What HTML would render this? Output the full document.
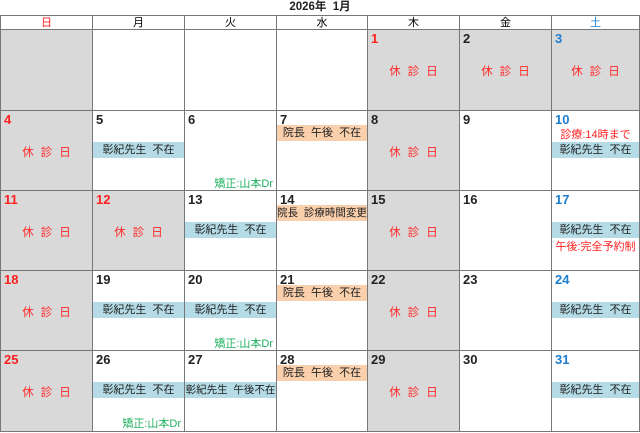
<!DOCTYPE html><html><head><meta charset="utf-8"><style>
body{margin:0;width:640px;height:433px;background:#fff;position:relative;overflow:hidden;font-family:"Liberation Sans","Noto Sans CJK JP",sans-serif;}
.a{position:absolute;box-sizing:border-box}
.c{position:absolute;box-sizing:border-box;border:1px solid #777;}
.g{background:#d9d9d9}
.n{position:absolute;left:3px;top:1px;font-size:13px;font-weight:bold;color:#222}
.r{color:#ff2020}.b{color:#1e7fd0}
.k{position:absolute;left:0;right:0;top:33px;text-align:center;font-size:11.5px;color:#ff2a2a;letter-spacing:7px;padding-left:7px}
.bl{position:absolute;left:0;right:0;top:31px;height:16px;background:#b4dbe6;font-size:11px;text-align:center;line-height:16px;color:#222}
.or{position:absolute;left:0;right:0;top:14px;height:16px;background:#f9cfac;font-size:11px;text-align:center;line-height:16px;color:#222}
.gr{position:absolute;right:3px;top:64px;font-size:11px;color:#22b060}
.h{position:absolute;top:15px;height:15px;font-size:11px;text-align:center;line-height:15px;box-sizing:border-box;border:1px solid #777}
</style></head><body>
<div class="a" style="left:0;width:640px;top:0;text-align:center;font-size:11.5px;font-weight:bold;color:#222;line-height:14px">2026年&nbsp; 1月</div>
<div class="h r" style="left:0;width:93px">日</div>
<div class="h" style="left:92px;width:93px">月</div>
<div class="h" style="left:184px;width:93px">火</div>
<div class="h" style="left:276px;width:92px">水</div>
<div class="h" style="left:367px;width:93px">木</div>
<div class="h" style="left:459px;width:93px">金</div>
<div class="h b" style="left:551px;width:89px">土</div>

<div class="c g" style="left:0;top:29px;width:93px;height:82px"></div>
<div class="c" style="left:92px;top:29px;width:93px;height:82px"></div>
<div class="c" style="left:184px;top:29px;width:93px;height:82px"></div>
<div class="c" style="left:276px;top:29px;width:92px;height:82px"></div>
<div class="c g" style="left:367px;top:29px;width:93px;height:82px"><span class="n r">1</span><div class="k">休診日</div></div>
<div class="c g" style="left:459px;top:29px;width:93px;height:82px"><span class="n">2</span><div class="k">休診日</div></div>
<div class="c g" style="left:551px;top:29px;width:89px;height:82px"><span class="n b">3</span><div class="k">休診日</div></div>

<div class="c g" style="left:0;top:110px;width:93px;height:81px"><span class="n r">4</span><div class="k">休診日</div></div>
<div class="c" style="left:92px;top:110px;width:93px;height:81px"><span class="n">5</span><div class="bl">彰紀先生&nbsp; 不在</div></div>
<div class="c" style="left:184px;top:110px;width:93px;height:81px"><span class="n">6</span><div class="gr">矯正:山本Dr</div></div>
<div class="c" style="left:276px;top:110px;width:92px;height:81px"><span class="n">7</span><div class="or">院長&nbsp; 午後&nbsp; 不在</div></div>
<div class="c g" style="left:367px;top:110px;width:93px;height:81px"><span class="n">8</span><div class="k">休診日</div></div>
<div class="c" style="left:459px;top:110px;width:93px;height:81px"><span class="n">9</span></div>
<div class="c" style="left:551px;top:110px;width:89px;height:81px"><span class="n b">10</span><div class="a r" style="left:0;right:0;top:15px;text-align:center;font-size:11px">診療:14時まで</div><div class="bl">彰紀先生&nbsp; 不在</div></div>

<div class="c g" style="left:0;top:190px;width:93px;height:81px"><span class="n r">11</span><div class="k">休診日</div></div>
<div class="c g" style="left:92px;top:190px;width:93px;height:81px"><span class="n r">12</span><div class="k">休診日</div></div>
<div class="c" style="left:184px;top:190px;width:93px;height:81px"><span class="n">13</span><div class="bl">彰紀先生&nbsp; 不在</div></div>
<div class="c" style="left:276px;top:190px;width:92px;height:81px"><span class="n">14</span><div class="or" style="font-size:10.5px">院長&nbsp; 診療時間変更</div></div>
<div class="c g" style="left:367px;top:190px;width:93px;height:81px"><span class="n">15</span><div class="k">休診日</div></div>
<div class="c" style="left:459px;top:190px;width:93px;height:81px"><span class="n">16</span></div>
<div class="c" style="left:551px;top:190px;width:89px;height:81px"><span class="n b">17</span><div class="bl">彰紀先生&nbsp; 不在</div><div class="a r" style="left:0;right:0;top:47px;text-align:center;font-size:11px">午後:完全予約制</div></div>

<div class="c g" style="left:0;top:270px;width:93px;height:81px"><span class="n r">18</span><div class="k">休診日</div></div>
<div class="c" style="left:92px;top:270px;width:93px;height:81px"><span class="n">19</span><div class="bl">彰紀先生&nbsp; 不在</div></div>
<div class="c" style="left:184px;top:270px;width:93px;height:81px"><span class="n">20</span><div class="bl">彰紀先生&nbsp; 不在</div><div class="gr">矯正:山本Dr</div></div>
<div class="c" style="left:276px;top:270px;width:92px;height:81px"><span class="n">21</span><div class="or">院長&nbsp; 午後&nbsp; 不在</div></div>
<div class="c g" style="left:367px;top:270px;width:93px;height:81px"><span class="n">22</span><div class="k">休診日</div></div>
<div class="c" style="left:459px;top:270px;width:93px;height:81px"><span class="n">23</span></div>
<div class="c" style="left:551px;top:270px;width:89px;height:81px"><span class="n b">24</span><div class="bl">彰紀先生&nbsp; 不在</div></div>

<div class="c g" style="left:0;top:350px;width:93px;height:82px"><span class="n r">25</span><div class="k">休診日</div></div>
<div class="c" style="left:92px;top:350px;width:93px;height:82px"><span class="n">26</span><div class="bl">彰紀先生&nbsp; 不在</div><div class="gr">矯正:山本Dr</div></div>
<div class="c" style="left:184px;top:350px;width:93px;height:82px"><span class="n">27</span><div class="bl" style="font-size:10.5px">彰紀先生&nbsp; 午後不在</div></div>
<div class="c" style="left:276px;top:350px;width:92px;height:82px"><span class="n">28</span><div class="or">院長&nbsp; 午後&nbsp; 不在</div></div>
<div class="c g" style="left:367px;top:350px;width:93px;height:82px"><span class="n">29</span><div class="k">休診日</div></div>
<div class="c" style="left:459px;top:350px;width:93px;height:82px"><span class="n">30</span></div>
<div class="c" style="left:551px;top:350px;width:89px;height:82px"><span class="n b">31</span><div class="bl">彰紀先生&nbsp; 不在</div></div>
</body></html>
